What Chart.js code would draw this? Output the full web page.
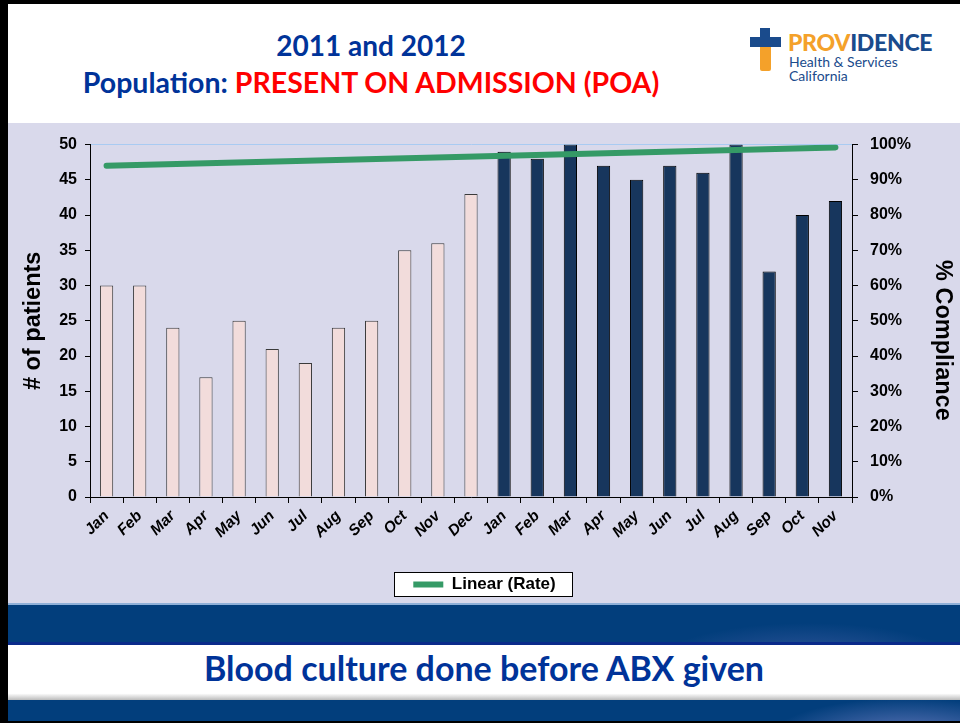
<!DOCTYPE html>
<html>
<head>
<meta charset="utf-8">
<script src="https://cdn.jsdelivr.net/npm/chart.js@4"></script>
<style>
  html, body { margin:0; padding:0; }
  body { width:960px; height:723px; position:relative; overflow:hidden; background:#fff; font-family:Lato, "Open Sans", sans-serif; }
  .frameL { position:absolute; left:0; top:0; width:8px; height:723px; background:#000; }
  .frameT { position:absolute; left:0; top:0; width:960px; height:4px; background:#000; }
  .frameB { position:absolute; left:0; top:721px; width:960px; height:2px; background:#000; }
  .head { position:absolute; left:8px; top:4px; width:952px; height:119px; background:#fff; }
  .t1, .t2 { position:absolute; left:0; width:726px; text-align:center; font-weight:700; color:#003399; white-space:nowrap; }
  .t1 { top:24px; font-size:28px; }
  .t2 { top:61px; font-size:28.5px; }
  .t2 span { color:#ff0000; }
  .plotbg { position:absolute; left:8px; top:123px; width:952px; height:480px; background:#d9d9eb; }
  .wrap { position:absolute; left:9px; top:123px; width:951px; height:480px; }
  .band1 { position:absolute; left:8px; top:603px; width:952px; height:42px;
    background:radial-gradient(ellipse 220px 60px at 800px 60px, rgba(120,120,200,.45), rgba(0,0,0,0) 70%), #023e7c;
    border-top:2px solid #8fb0d8; box-sizing:border-box; border-bottom:3px solid #0a2a8a; }
  .band2 { position:absolute; left:8px; top:645px; width:952px; height:55px; background:linear-gradient(#fff 0%, #fff 88%, #bbb 100%); }
  .foot { position:absolute; left:8px; top:647px; width:952px; text-align:center; font-weight:700; font-size:34px; color:#003399; }
  .band3 { position:absolute; left:8px; top:700px; width:952px; height:21px;
    background:radial-gradient(ellipse 200px 60px at 900px 40px, rgba(150,150,220,.7), rgba(0,0,0,0) 70%), #023e7c; }
  .logo { position:absolute; left:742px; top:24px; width:205px; height:62px; }
  .cross-h { position:absolute; left:0; top:9px; width:31px; height:10px; background:#1a4b8c; }
  .cross-v { position:absolute; left:10px; top:0; width:10px; height:19px; background:#1a4b8c; }
  .cross-o { position:absolute; left:10px; top:19px; width:11px; height:24px; background:#f4a12a; border-radius:0 0 2px 2px; }
  .lg1 { position:absolute; left:38px; top:0px; font-weight:900; font-size:23px; color:#1a4b8c; letter-spacing:-0.3px; }
  .lg1 span { color:#f4a12a; }
  .lg2 { position:absolute; left:39px; top:27px; font-size:14px; color:#1a4b8c; line-height:14px; }
</style>
</head>
<body>
<div class="head">
  <div class="t1">2011 and 2012</div>
  <div class="t2">Population: <span>PRESENT ON ADMISSION (POA)</span></div>
  <div class="logo">
    <div class="cross-h"></div><div class="cross-v"></div><div class="cross-o"></div>
    <div class="lg1"><span>PROV</span>IDENCE</div>
    <div class="lg2">Health &amp; Services<br>California</div>
  </div>
</div>
<div class="plotbg"></div>
<div class="wrap"><canvas id="c"></canvas></div>
<div class="band1"></div>
<div class="band2"></div>
<div class="foot">Blood culture done before ABX given</div>
<div class="band3"></div>
<div class="frameL"></div><div class="frameT"></div><div class="frameB"></div>
<script>
// Data
const months = ['Jan','Feb','Mar','Apr','May','Jun','Jul','Aug','Sep','Oct','Nov','Dec',
                'Jan','Feb','Mar','Apr','May','Jun','Jul','Aug','Sep','Oct','Nov'];
const years = [2011,2011,2011,2011,2011,2011,2011,2011,2011,2011,2011,2011,
               2012,2012,2012,2012,2012,2012,2012,2012,2012,2012,2012];
const patients = [30,30,24,17,25,21,19,24,25,35,36,43,
                  49,48,50,47,45,47,46,50,32,40,42];
const trendEnds = [94, 99.2];   // linear trend of rate (%), first and last month
const leftTicks = [0,5,10,15,20,25,30,35,40,45,50];

const trendRate = months.map((_, i) => i === 0 ? trendEnds[0] : (i === months.length - 1 ? trendEnds[1] : null));

const font = (size, style) => ({ family:'"Liberation Sans", Arial, sans-serif', size, weight:'bold', style: style || 'normal' });

// white framed box behind the legend
function legendBox(chart) {
  const hb = chart.legend && chart.legend.legendHitBoxes && chart.legend.legendHitBoxes[0];
  if (!hb) return null;
  return { x: Math.round(hb.left - 19) + .5, y: Math.round(hb.top - 4) + .5, w: Math.round(hb.width + 36), h: Math.round(hb.height + 7) };
}
const legendFrame = {
  id:'legendFrame',
  beforeDraw(chart) {
    const b = legendBox(chart); if (!b) return;
    chart.ctx.save(); chart.ctx.fillStyle = '#fff'; chart.ctx.fillRect(b.x, b.y, b.w, b.h); chart.ctx.restore();
  },
  afterDraw(chart) {
    const b = legendBox(chart); if (!b) return;
    const ctx = chart.ctx;
    ctx.save(); ctx.strokeStyle = '#000'; ctx.lineWidth = 1; ctx.strokeRect(b.x, b.y, b.w, b.h); ctx.restore();
  }
};

new Chart(document.getElementById('c'), {
  data:{
    labels: months,
    datasets:[
      {
        type:'bar', label:'Patients', data: patients, yAxisID:'y', order:1,
        backgroundColor: years.map(y => y === 2011 ? '#f2dcdb' : '#17365d'),
        borderColor: years.map(y => y === 2011 ? '#3a3a3a' : '#000'),
        borderWidth:1, categoryPercentage:1, barPercentage:0.4
      },
      {
        type:'line', label:'Linear (Rate)', data: trendRate, yAxisID:'y1', order:0,
        borderColor:'#359a66', backgroundColor:'#359a66', borderWidth:6,
        borderCapStyle:'round', pointRadius:0, spanGaps:true, tension:0
      }
    ]
  },
  options:{
    responsive:true, maintainAspectRatio:false, animation:false,
    layout:{ padding:{ top:19, left:0, right:0, bottom:0 } },
    plugins:{
      tooltip:{ enabled:false },
      legend:{
        position:'bottom',
        labels:{
          filter: item => item.datasetIndex === 1,
          usePointStyle:true, pointStyle:'line', pointStyleWidth:30, padding:8,
          color:'#000', font: font(17)
        }
      }
    },
    scales:{
      x:{
        offset:true,
        grid:{ offset:true, drawOnChartArea:false, tickColor:'#000', tickLength:6 },
        border:{ color:'#000', width:1 },
        ticks:{ color:'#000', font: font(15.5, 'italic'), maxRotation:45, minRotation:45, autoSkip:false, padding:4 },
        afterFit(s) { s.height = 71; }
      },
      y:{
        position:'left', min:0, max:50,
        afterBuildTicks(s) { s.ticks = leftTicks.map(v => ({ value:v })); },
        grid:{ color: c => (c.tick && c.tick.value === 50) ? '#a9cbf2' : 'rgba(0,0,0,0)', tickColor:'#000', tickLength:5 },
        border:{ color:'#000', width:1 },
        ticks:{ color:'#000', font: font(16), padding:8 },
        title:{ display:true, text:'# of patients', color:'#000', font: font(23.5), padding:{ top:10, bottom:0 } },
        afterFit(s) { s.width = 81; }
      },
      y1:{
        position:'right', min:0, max:100,
        grid:{ drawOnChartArea:false, tickColor:'#000', tickLength:6 },
        border:{ color:'#000', width:1 },
        ticks:{ stepSize:10, color:'#000', font: font(16), padding:12, callback: v => v + '%' },
        title:{ display:true, text:'      % Compliance', color:'#000', font: font(23.5), padding:{ top:3, bottom:0 } },
        afterFit(s) { s.width = 108; }
      }
    }
  },
  plugins:[legendFrame]
});
</script>
</body>
</html>
